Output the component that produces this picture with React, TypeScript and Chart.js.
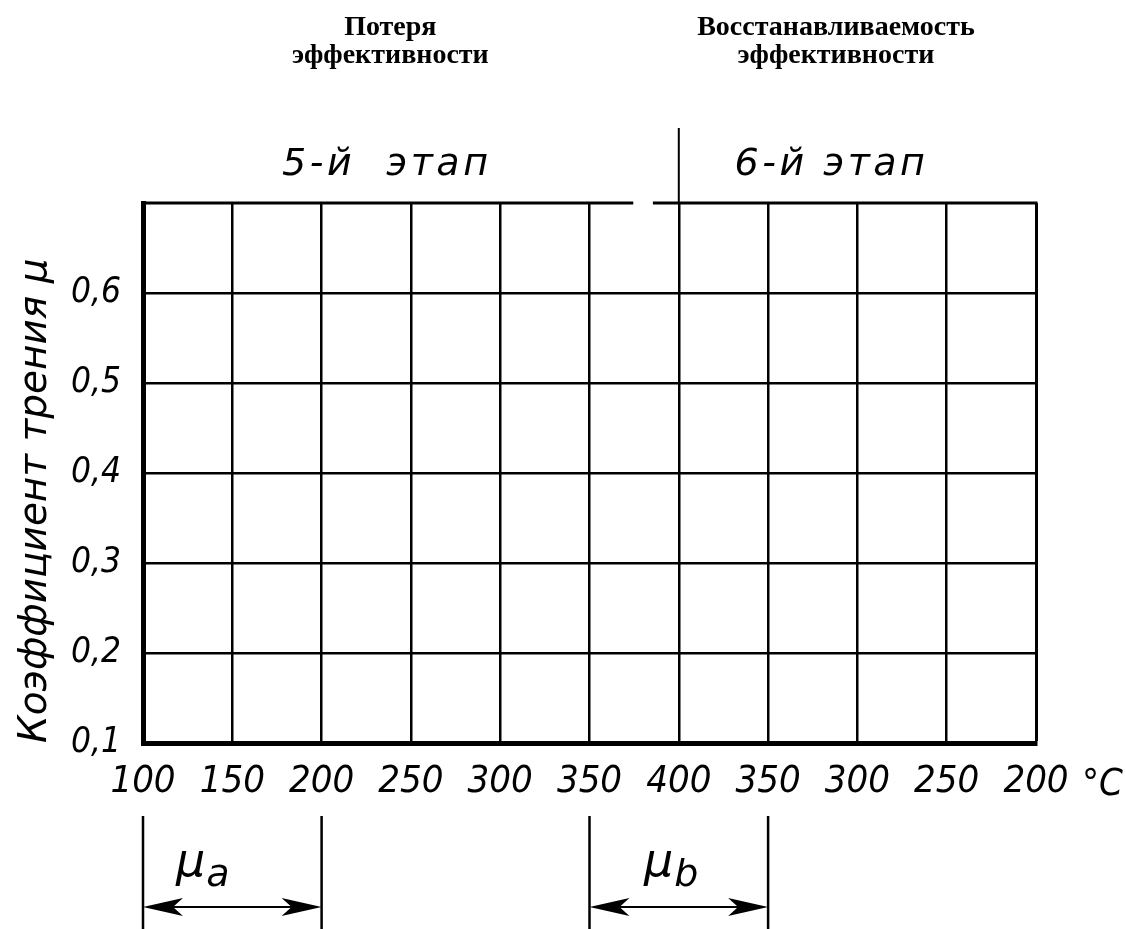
import { useEffect, useRef } from 'react';
import { Chart, registerables } from 'chart.js';

Chart.register(...registerables);

// ---- data ----
const TEMPERATURE_LABELS = ['100', '150', '200', '250', '300', '350', '400', '350', '300', '250', '200'];
const TEMPERATURE_UNIT = '°C';
const FRICTION_LABELLED = [0.1, 0.2, 0.3, 0.4, 0.5, 0.6];
const FRICTION_MIN = 0.1;
const FRICTION_MAX = 0.7;
const FRICTION_STEP = 0.1;
const Y_TITLE = 'Коэффициент трения μ';
const HEADINGS = [
  { lines: ['Потеря', 'эффективности'], at: 2.77 },
  { lines: ['Восстанавливаемость', 'эффективности'], at: 7.76 },
];
const STAGES = [
  { label: '5-й  этап', at: 2.73 },
  { label: '6-й этап', at: 7.71 },
];
const STAGE_DIVIDER = 6;
const TOP_GAP = [5.49, 5.71];
const MU_RANGES = [
  { sub: 'a', from: 0, to: 2, at: 0.63 },
  { sub: 'b', from: 5, to: 7, at: 5.87 },
];

// ---- styles ----
const INK = '#000';
const W = 1126;
const H = 929;
const NARROW = '"Liberation Sans Narrow", "DejaVu Sans Condensed", sans-serif';
const SANS = '"DejaVu Sans", sans-serif';
const SERIF = '"Liberation Serif", "DejaVu Serif", serif';

function arrowHead(ctx: CanvasRenderingContext2D, tipX: number, y: number, dir: number) {
  ctx.beginPath();
  ctx.moveTo(tipX, y);
  ctx.lineTo(tipX + dir * 40, y - 9);
  ctx.lineTo(tipX + dir * 30, y);
  ctx.lineTo(tipX + dir * 40, y + 9);
  ctx.closePath();
  ctx.fill();
}

const extras = {
  id: 'formExtras',
  afterDraw(chart: any) {
    const { ctx, chartArea: a } = chart;
    const x = chart.scales.x;
    const y = chart.scales.y;
    ctx.save();
    ctx.strokeStyle = INK;
    ctx.fillStyle = INK;

    // top border with a break
    const yTop = y.getPixelForValue(FRICTION_MAX);
    ctx.lineWidth = 3;
    ctx.beginPath();
    ctx.moveTo(a.left - 2, yTop);
    ctx.lineTo(x.getPixelForValue(TOP_GAP[0]), yTop);
    ctx.moveTo(x.getPixelForValue(TOP_GAP[1]), yTop);
    ctx.lineTo(a.right + 1.5, yTop);
    ctx.stroke();

    // stage divider extension
    const xd = x.getPixelForValue(STAGE_DIVIDER);
    ctx.lineWidth = 2;
    ctx.beginPath();
    ctx.moveTo(xd, 128);
    ctx.lineTo(xd, yTop);
    ctx.stroke();

    // unit
    ctx.font = `italic 38px ${NARROW}`;
    ctx.textAlign = 'left';
    ctx.textBaseline = 'alphabetic';
    ctx.fillText(TEMPERATURE_UNIT, x.getPixelForValue(TEMPERATURE_LABELS.length - 1) + 46, 795);

    // headings
    ctx.font = `bold 28px ${SERIF}`;
    ctx.textAlign = 'center';
    HEADINGS.forEach((h) => {
      h.lines.forEach((line, i) => {
        ctx.fillText(line, x.getPixelForValue(h.at), 35 + i * 28);
      });
    });

    // stages
    ctx.font = `italic 38px ${SANS}`;
    (ctx as any).letterSpacing = '3.5px';
    STAGES.forEach((s) => {
      ctx.fillText(s.label, x.getPixelForValue(s.at), 175);
    });
    (ctx as any).letterSpacing = '0px';

    // mu ranges
    MU_RANGES.forEach((r) => {
      const x0 = x.getPixelForValue(r.from);
      const x1 = x.getPixelForValue(r.to);
      ctx.lineWidth = 2.5;
      ctx.beginPath();
      ctx.moveTo(x0, 816);
      ctx.lineTo(x0, H);
      ctx.moveTo(x1, 816);
      ctx.lineTo(x1, H);
      ctx.stroke();
      ctx.lineWidth = 2;
      ctx.beginPath();
      ctx.moveTo(x0 + 30, 907);
      ctx.lineTo(x1 - 30, 907);
      ctx.stroke();
      arrowHead(ctx, x0, 907, 1);
      arrowHead(ctx, x1, 907, -1);
      const cx = x.getPixelForValue(r.at);
      ctx.textAlign = 'right';
      ctx.font = `italic 46px ${SANS}`;
      ctx.fillText('μ', cx + 6, 876);
      ctx.textAlign = 'left';
      ctx.font = `italic 38px ${SANS}`;
      ctx.fillText(r.sub, cx + 7, 886);
    });

    ctx.restore();
  },
};

export default function App() {
  const ref = useRef<HTMLCanvasElement>(null);
  useEffect(() => {
    const canvas = ref.current;
    if (!canvas) return;
    const chart = new Chart(canvas, {
      type: 'scatter',
      data: { datasets: [{ data: [] }] },
      options: {
        animation: false,
        responsive: false,
        devicePixelRatio: 1,
        layout: { padding: { top: 203, right: 90, left: 0, bottom: 0 } },
        plugins: { legend: { display: false }, tooltip: { enabled: false } },
        scales: {
          x: {
            type: 'linear',
            min: 0,
            max: TEMPERATURE_LABELS.length - 1,
            afterFit: (s: any) => { s.height = H - 743; },
            ticks: {
              stepSize: 1,
              color: INK,
              padding: 16,
              maxRotation: 0,
              autoSkip: false,
              font: { family: NARROW, size: 38, style: 'italic' },
              callback: (v: any) => TEMPERATURE_LABELS[Math.round(v)] ?? '',
            },
            grid: {
              color: INK,
              lineWidth: (c: any) => (c.index === TEMPERATURE_LABELS.length - 1 ? 3 : 2.5),
              drawTicks: false,
            },
            border: { display: true, width: 5, color: INK },
          },
          y: {
            type: 'linear',
            min: FRICTION_MIN,
            max: FRICTION_MAX,
            afterFit: (s: any) => { s.width = 143; },
            ticks: {
              stepSize: FRICTION_STEP,
              color: INK,
              padding: 22,
              font: { family: NARROW, size: 35, style: 'italic' },
              callback: (v: any) => {
                const r = Math.round(v * 10) / 10;
                return FRICTION_LABELLED.includes(r) ? r.toFixed(1).replace('.', ',') : '';
              },
            },
            grid: {
              color: INK,
              lineWidth: (c: any) => (Math.abs(c.tick?.value - FRICTION_MAX) < 1e-6 ? 0 : 2.5),
              drawTicks: false,
            },
            border: { display: true, width: 5, color: INK },
            title: {
              display: true,
              text: Y_TITLE,
              align: 'start',
              color: INK,
              padding: { top: 16, bottom: 0 },
              font: { family: SANS, size: 39, style: 'italic', lineHeight: 1 },
            },
          },
        },
      },
      plugins: [extras],
    });
    return () => chart.destroy();
  }, []);
  return (
    <div style={{ position: 'absolute', left: 0, top: 0, width: W, height: H, background: '#fff' }}>
      <canvas ref={ref} width={W} height={H} style={{ display: 'block', width: W, height: H }} />
    </div>
  );
}
